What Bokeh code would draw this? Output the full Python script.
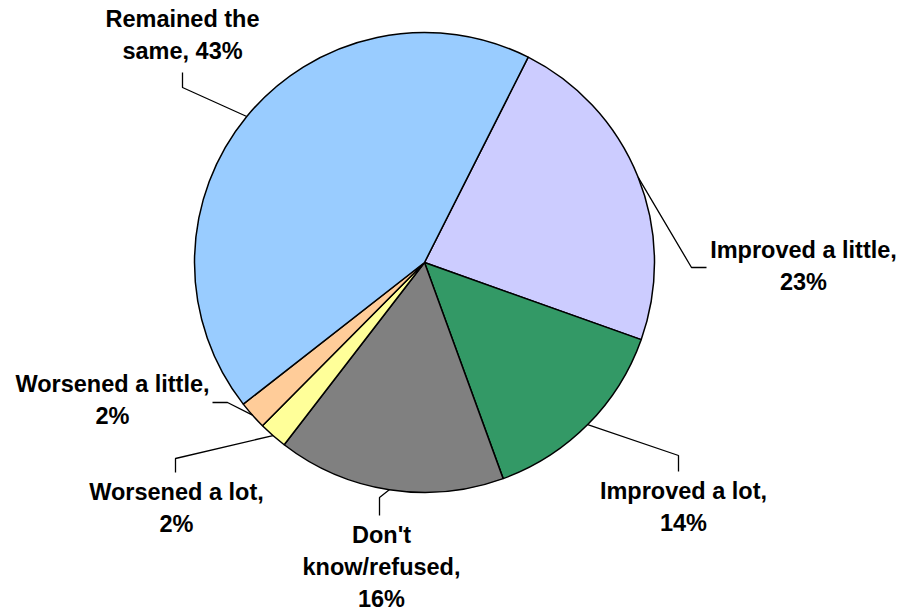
import math
from bokeh.plotting import figure
from bokeh.models import Range1d, ColumnDataSource
from bokeh.core.properties import value
from bokeh.embed import file_html
from bokeh.resources import INLINE

# ---- data ----
categories = ["Improved a little", "Improved a lot", "Don't know/refused",
              "Worsened a lot", "Worsened a little", "Remained the same"]
percents = [23, 14, 16, 2, 2, 43]
label_texts = ["Improved a little,\n23%", "Improved a lot,\n14%",
               "Don't\nknow/refused,\n16%", "Worsened a lot,\n2%",
               "Worsened a little,\n2%", "Remained the\nsame, 43%"]
colors = ["#CCCCFF", "#339966", "#808080", "#FFFF99", "#FFCC99", "#99CCFF"]

# ---- layout (pixel coordinates, y down) ----
W, H = 899, 611
CX, CY, R = 424, 262, 230
START_DEG = 63.2          # math angle where first slice starts, slices go clockwise
LINE_GAP = 32
TEXT_SHIFT = -9
label_first_baseline = [(803, 258), (683, 499), (381, 543), (176, 500), (112, 392), (182, 27)]
elbows = [(691, 267), (678, 455), (379, 497), (175, 458), (227, 402), (182, 87)]
ends = [(706, 267), (678, 471), (379, 515), (175, 472), (212, 402), (182, 72)]

total = sum(percents)
starts, stops, mids = [], [], []
cur = START_DEG
for v in percents:
    sweep = 360.0 * v / total
    starts.append(math.radians(cur))
    stops.append(math.radians(cur - sweep))
    mids.append(math.radians(cur - sweep / 2))
    cur -= sweep

p = figure(width=W, height=H, output_backend="svg", toolbar_location=None,
           x_range=Range1d(0, W), y_range=Range1d(0, H), min_border=0,
           outline_line_color=None, background_fill_color="white",
           border_fill_color="white")
p.axis.visible = False
p.grid.visible = False

src = ColumnDataSource(dict(cat=categories, start=starts, end=stops, color=colors))
p.wedge(x=CX, y=H - CY, radius=R, start_angle="start", end_angle="end",
        direction="clock", fill_color="color", line_color="black",
        line_width=1.5, source=src)

xs, ys = [], []
for m, (ex, ey), (tx, ty) in zip(mids, elbows, ends):
    ax = CX + R * math.cos(m)
    ay = (H - CY) + R * math.sin(m)
    xs.append([ax, ex, tx])
    ys.append([ay, H - ey, H - ty])
p.multi_line(xs, ys, line_color="black", line_width=1.3)

tx_, ty_, tt_ = [], [], []
for lbl, (lx, ly) in zip(label_texts, label_first_baseline):
    for i, line in enumerate(lbl.split("\n")):
        tx_.append(lx)
        ty_.append(H - (ly + TEXT_SHIFT + i * LINE_GAP))
        tt_.append(line)
p.text(x=tx_, y=ty_, text=tt_, text_font=value("Liberation Sans"),
       text_font_style="bold", text_font_size="23.5px", text_align="center",
       text_baseline="alphabetic", text_color="black")

open("out.html", "w").write(file_html(p, INLINE))
